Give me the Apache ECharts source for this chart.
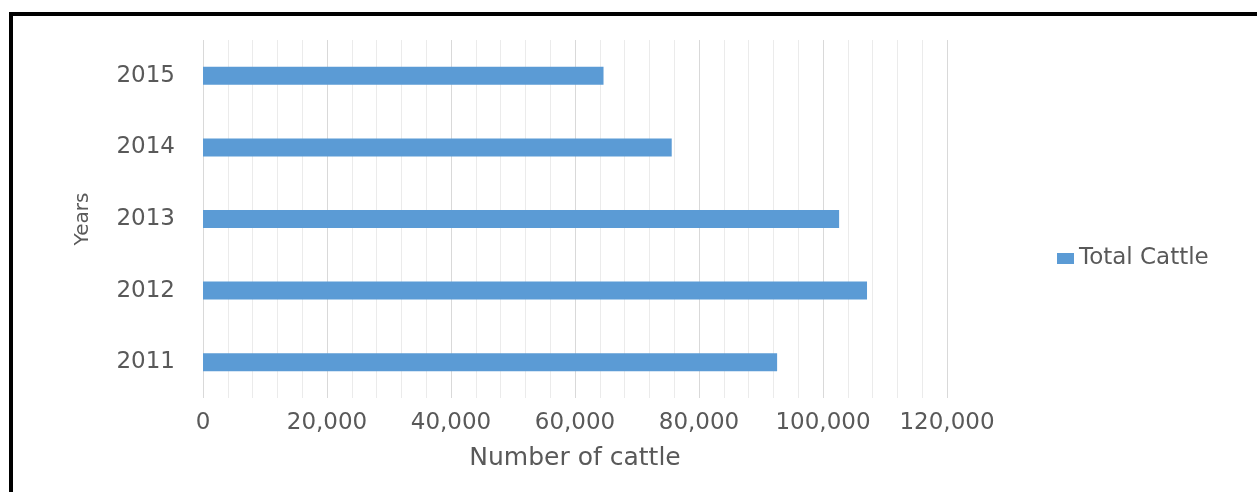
<!DOCTYPE html>
<html>
<head>
<meta charset="utf-8">
<script src="https://cdn.jsdelivr.net/npm/echarts@6/dist/echarts.min.js"></script>
<style>
  html, body { margin: 0; padding: 0; background: #fff; }
  #chartCattle { width: 1257px; height: 492px; }
</style>
</head>
<body>
<div id="chartCattle"></div>
<script>
var years = ['2011', '2012', '2013', '2014', '2015'];
var totalCattle = [92600, 107100, 102600, 75600, 64600];
var seriesName = 'Total Cattle';

var chart = echarts.init(document.getElementById('chartCattle'));

var textGray = '#595959';
var fontFam = 'DejaVu Sans';

var option = {
    animation: false,
    backgroundColor: '#fff',
    grid: { left: 203, right: 310, top: 40, bottom: 94 },
    legend: {
        orient: 'vertical',
        left: 1052,
        top: 242,
        itemWidth: 17,
        itemHeight: 11,
        itemGap: 6,
        icon: 'rect',
        textStyle: { color: textGray, fontSize: 23, fontFamily: fontFam },
        data: [seriesName]
    },
    xAxis: {
        type: 'value',
        min: 0,
        max: 120000,
        interval: 20000,
        name: 'Number of cattle',
        nameLocation: 'middle',
        nameGap: 48,
        nameTextStyle: { color: textGray, fontSize: 25, fontFamily: fontFam },
        axisLine: { show: false },
        axisTick: { show: false },
        axisLabel: {
            color: textGray, fontSize: 23, fontFamily: fontFam, margin: 14,
            formatter: function (v) { return v.toLocaleString('en-US'); }
        },
        splitLine: { show: true, lineStyle: { color: '#d9d9d9', width: 1 } },
        minorTick: { show: false, splitNumber: 5 },
        minorSplitLine: { show: true, lineStyle: { color: '#ebebeb', width: 1 } }
    },
    yAxis: {
        type: 'category',
        data: years,
        name: 'Years',
        nameLocation: 'middle',
        nameGap: 110,
        nameRotate: 90,
        nameTextStyle: { color: textGray, fontSize: 20, fontFamily: fontFam },
        axisLine: { show: false },
        axisTick: { show: false },
        axisLabel: { color: textGray, fontSize: 23, fontFamily: fontFam, margin: 28 },
        splitLine: { show: false }
    },
    series: [{
        name: seriesName,
        type: 'bar',
        barWidth: 18,
        itemStyle: { color: '#5b9bd5' },
        data: totalCattle
    }],
    graphic: [
        { type: 'rect', shape: { x: 9, y: 12, width: 1248, height: 4 }, style: { fill: '#000' } },
        { type: 'rect', shape: { x: 9, y: 12, width: 4, height: 480 }, style: { fill: '#000' } }
    ]
};

chart.setOption(option);

window.onresize = function () {
    chart.resize();
};
</script>
</body>
</html>
